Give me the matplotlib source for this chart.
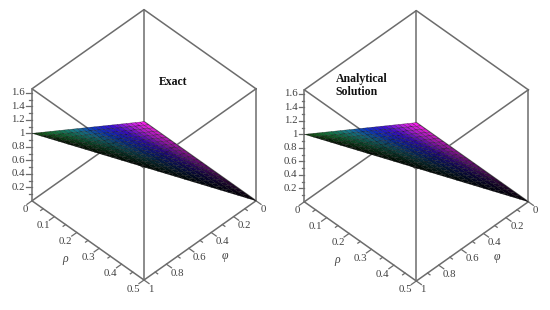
import numpy as np
import matplotlib
matplotlib.use("Agg")
import matplotlib.pyplot as plt
from matplotlib.colors import LinearSegmentedColormap
from mpl_toolkits.mplot3d import proj3d
from mpl_toolkits.mplot3d.art3d import Poly3DCollection

plt.rcParams['font.family'] = ['Liberation Serif', 'DejaVu Serif']

# ---- data ----
rho_levels = [0.00, 0.02, 0.04, 0.06, 0.08, 0.10, 0.12, 0.14, 0.16, 0.18, 0.20, 0.22, 0.24,
              0.26, 0.28, 0.30, 0.32, 0.34, 0.36, 0.38, 0.40, 0.42, 0.44, 0.46, 0.48, 0.50]
phi_levels = [0.00, 0.04, 0.08, 0.12, 0.16, 0.20, 0.24, 0.28, 0.32, 0.36, 0.40, 0.44, 0.48,
              0.52, 0.56, 0.60, 0.64, 0.68, 0.72, 0.76, 0.80, 0.84, 0.88, 0.92, 0.96, 1.00]
z_levels = [0.00, 0.04, 0.08, 0.12, 0.16, 0.20, 0.24, 0.28, 0.32, 0.36, 0.40, 0.44, 0.48,
            0.52, 0.56, 0.60, 0.64, 0.68, 0.72, 0.76, 0.80, 0.84, 0.88, 0.92, 0.96, 1.00]
rho_ticks = [0, 0.1, 0.2, 0.3, 0.4, 0.5]
rho_labels = ['0', '0.1', '0.2', '0.3', '0.4', '0.5']
rho_minor = [0.05, 0.15, 0.25, 0.35, 0.45]
phi_ticks = [0, 0.2, 0.4, 0.6, 0.8, 1]
phi_labels = ['0', '0.2', '0.4', '0.6', '0.8', '1']
phi_minor = [0.1, 0.3, 0.5, 0.7, 0.9]
z_ticks = [0.2, 0.4, 0.6, 0.8, 1, 1.2, 1.4, 1.6]
z_labels = ['0.2', '0.4', '0.6', '0.8', '1', '1.2', '1.4', '1.6']
z_minor = [0.1, 0.3, 0.5, 0.7, 0.9, 1.1, 1.3, 1.5]
rho_max, phi_max, z_max = 0.5, 1.0, 1.66
hue_colors = ['#ff20e0', '#c020e8', '#4010f0', '#1040f0', '#20a8c0', '#20b868', '#30b830']

hue_map = LinearSegmentedColormap.from_list('hue', hue_colors)
GREY = '#6c6c6c'


def cell_colour(phi, rho):
    u = rho / rho_max
    v = phi / phi_max
    hue = np.clip(v * (1 + 1.1 * u) + 0.16 * u + 0.02, 0, 1)
    t = np.clip(u / max(1 - v, 1e-3), 0, 1)
    shade = (1.0 - t ** 0.85) * (1.05 - 0.45 * v) + 0.02
    r, g, b, _ = hue_map(hue)
    return (min(r * shade, 1), min(g * shade, 1), min(b * shade, 1), 1.0)


def panel(target_left, target_width, target_bottom_y):
    ax = fig.add_subplot(projection='3d', proj_type='ortho')
    ax.view_init(elev=45, azim=45)
    ax.set_xlim(0, phi_max)
    ax.set_ylim(0, rho_max)
    ax.set_zlim(0, z_max)
    ax.set_box_aspect((1, 1, 1))
    ax.set_axis_off()
    ax.computed_zorder = False
    ax.patch.set_alpha(0)

    def corner_px(x, y, z):
        px, py, _ = proj3d.proj_transform(x, y, z, ax.get_proj())
        return ax.transData.transform((px, py))

    W, H = fig.canvas.get_width_height()
    S = 300.0
    ax.set_position([0, 0, S / W, S / H])
    fig.canvas.draw()
    for _ in range(3):
        ax.apply_aspect()
        left = corner_px(phi_max, 0, 0)
        right = corner_px(0, rho_max, 0)
        S *= target_width / (right[0] - left[0])
        pos = ax.get_position()
        ax.set_position([pos.x0, pos.y0, S / W, S / H])
        ax.apply_aspect()
        left = corner_px(phi_max, 0, 0)
        front = corner_px(phi_max, rho_max, 0)
        dx = target_left - left[0]
        dy = (H - target_bottom_y) - front[1]
        pos = ax.get_position()
        ax.set_position([pos.x0 + dx / W, pos.y0 + dy / H, S / W, S / H])

    # box
    lo_hi = [(0, rho_max), (phi_max, rho_max), (phi_max, 0), (0, 0)]
    kw = dict(color=GREY, lw=1.1, zorder=1, clip_on=False)
    for z in (0, z_max):
        ring = lo_hi + lo_hi[:1]
        ax.plot([p[0] for p in ring], [p[1] for p in ring], [z] * 5, **kw)
    for p in lo_hi:
        ax.plot([p[0]] * 2, [p[1]] * 2, [0, z_max], **kw)

    # surface
    n = len(rho_levels)
    polys, cols = [], []
    for i in range(n - 1):
        for j in range(n - 1 - i):
            a = (phi_levels[i], rho_levels[j], z_levels[i])
            b = (phi_levels[i + 1], rho_levels[j], z_levels[i + 1])
            c = (phi_levels[i + 1], rho_levels[j + 1], z_levels[i + 1])
            d = (phi_levels[i], rho_levels[j + 1], z_levels[i])
            if i + j + 2 <= n - 1:
                polys.append([a, b, c, d])
                cen = (phi_levels[i] + 0.02, rho_levels[j] + 0.01)
            else:
                polys.append([a, b, d])
                cen = (phi_levels[i] + 0.013, rho_levels[j] + 0.007)
            cols.append(cell_colour(*cen))
    coll = Poly3DCollection(polys, facecolors=cols, edgecolors=(0, 0, 0, 0.55),
                            linewidths=0.3, zorder=3)
    ax.add_collection3d(coll)

    # ticks
    tk = dict(color=GREY, lw=0.9, zorder=2, clip_on=False)
    for r in rho_ticks:
        ax.plot([phi_max, phi_max * 1.045], [r, r], [0, 0], **tk)
    for r in rho_minor:
        ax.plot([phi_max, phi_max * 1.022], [r, r], [0, 0], **tk)
    for p in phi_ticks:
        ax.plot([p, p], [rho_max, rho_max * 1.045], [0, 0], **tk)
    for p in phi_minor:
        ax.plot([p, p], [rho_max, rho_max * 1.022], [0, 0], **tk)
    for z in z_ticks:
        ax.plot([phi_max, phi_max * 1.025], [0, -rho_max * 0.025], [z, z], **tk)
    for z in z_minor:
        ax.plot([phi_max, phi_max * 1.012], [0, -rho_max * 0.012], [z, z], **tk)

    # labels
    def label(x, y, z, s, dx, dy, **k):
        px, py, _ = proj3d.proj_transform(x, y, z, ax.get_proj())
        ax.annotate(s, (px, py), xycoords='data', xytext=(dx * 0.72, -dy * 0.72),
                    textcoords='offset points', ha='center', va='center',
                    color='#404040', annotation_clip=False, **k)

    fs = 7.8
    for r, s in zip(rho_ticks, rho_labels):
        label(phi_max, r, 0, s, -11 if r else -7, 9, fontsize=fs)
    for p, s in zip(phi_ticks, phi_labels):
        label(p, rho_max, 0, s, 7 + (0 if p in (0, 1) else 4), 9, fontsize=fs)
    for z, s in zip(z_ticks, z_labels):
        px, py, _ = proj3d.proj_transform(phi_max, 0, z, ax.get_proj())
        ax.annotate(s, (px, py), xycoords='data', xytext=(-5, 0),
                    textcoords='offset points', ha='right', va='center',
                    color='#404040', fontsize=fs, annotation_clip=False)
    label(phi_max, 0.25, 0, '\u03c1', -23, 19, fontsize=8.5, style='italic')
    label(0.5, rho_max, 0, '\u03c6', 25, 16, fontsize=8.5, style='italic')
    return ax


fig = plt.figure(figsize=(5.5, 3.1), dpi=100, facecolor='white')
panel(32, 224, 280)
panel(304.3, 224, 281)
fig.text(173 / 550, 1 - 82 / 310, 'Exact', fontsize=8.5, fontweight='bold',
         ha='center', va='center', color='#111111')
fig.text(335.5 / 550, 1 - 85.5 / 310, 'Analytical\nSolution', fontsize=8.5, fontweight='bold',
         ha='left', va='center', multialignment='left', linespacing=1.15, color='#111111')
fig.savefig('out.png', dpi=100, facecolor='white')
